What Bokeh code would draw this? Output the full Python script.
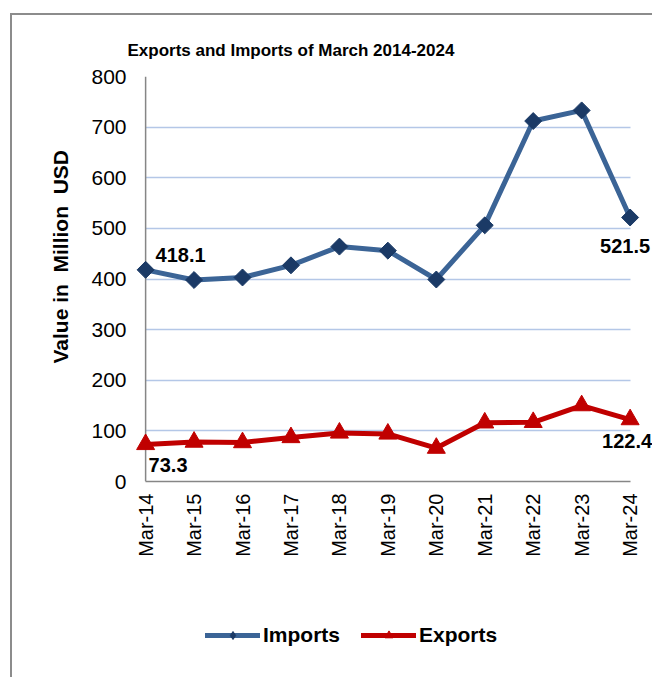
import math
from bokeh.plotting import figure
from bokeh.layouts import column
from bokeh.models import (ColumnDataSource, Range1d, FixedTicker, Label, Legend,
                          LegendItem, Span, Title)
from bokeh.embed import file_html
from bokeh.resources import INLINE

# ---- data ----
categories = ["Mar-14", "Mar-15", "Mar-16", "Mar-17", "Mar-18", "Mar-19",
              "Mar-20", "Mar-21", "Mar-22", "Mar-23", "Mar-24"]
imports = [418.1, 398, 403, 427, 464, 456, 399, 506, 712, 733, 521.5]
exports = [73.3, 78, 77, 87, 96, 94, 66, 116, 117, 150, 122.4]
y_ticks = [0, 100, 200, 300, 400, 500, 600, 700, 800]

FONT = "Liberation Sans"
IMP_LINE = "#3B6496"
IMP_MARK = "#1B3A66"
EXP_COL = "#C00000"
AXIS_COL = "#868686"
GRID_COL = "#B4C7E7"

xs = list(range(len(categories)))
src = ColumnDataSource(dict(x=xs, imports=imports, exports=exports))

p = figure(frame_width=519, frame_height=405,
           min_border_left=121, min_border_top=61,
           min_border_right=0, min_border_bottom=80,
           x_range=Range1d(-0.25, len(categories) - 1 + 0.462),
           y_range=Range1d(y_ticks[0], y_ticks[-1]),
           output_backend="svg", toolbar_location=None,
           title="Exports and Imports of March 2014-2024")
p.outline_line_color = None
p.background_fill_color = "white"
p.border_fill_color = "white"

# title
p.title.text_font = FONT
p.title.text_font_size = "17px"
p.title.text_font_style = "bold"
p.title.text_color = "black"
p.title.align = "left"
p.title.offset = -6
p.title.standoff = 34

# axes
p.xaxis.ticker = FixedTicker(ticks=xs)
p.xaxis.major_label_overrides = {i: c for i, c in enumerate(categories)}
p.xaxis.major_label_orientation = math.pi / 2
p.xaxis.major_label_text_font = FONT
p.xaxis.major_label_text_font_size = "20px"
p.xaxis.major_label_text_color = "black"
p.xaxis.major_label_standoff = 12
p.xaxis.major_tick_in = 0
p.xaxis.major_tick_out = 0
p.xaxis.minor_tick_line_color = None
p.xaxis.axis_line_color = AXIS_COL
p.xaxis.axis_line_width = 1.5
p.xaxis.bounds = (xs[0], xs[-1])

p.yaxis.ticker = FixedTicker(ticks=y_ticks)
p.yaxis.major_label_text_font = FONT
p.yaxis.major_label_text_font_size = "21px"
p.yaxis.major_label_text_color = "black"
p.yaxis.major_label_standoff = 7
p.yaxis.major_tick_in = 0
p.yaxis.major_tick_out = 0
p.yaxis.minor_tick_line_color = None
p.yaxis.axis_line_color = None

p.xgrid.visible = False
p.ygrid.grid_line_color = GRID_COL
p.ygrid.grid_line_width = 1.5
try:
    p.ygrid.cross_bounds = (xs[0], xs[-1])
except Exception:
    pass

yline = Span(location=xs[0], dimension="height", line_color=AXIS_COL,
             line_width=1.5, level="underlay")
p.add_layout(yline)

# y axis title (side title so it can be shifted along the axis)
p.add_layout(Title(text="Value in\u00a0 Million\u00a0 USD", align="left", offset=118,
                   standoff=34, text_font=FONT, text_font_size="21px",
                   text_font_style="bold", text_color="black"), "left")

# series
r1 = p.line("x", "imports", source=src, line_color=IMP_LINE, line_width=5,
            line_join="round", line_cap="round")
r2 = p.line("x", "exports", source=src, line_color=EXP_COL, line_width=5,
            line_join="round", line_cap="round")
m1 = p.scatter("x", "imports", source=src, marker="square", angle=math.pi / 4,
               size=12, fill_color=IMP_MARK, line_color=IMP_MARK)
m2 = p.scatter("x", "exports", source=src, marker="triangle", size=18,
               fill_color=EXP_COL, line_color=EXP_COL)

# data labels (first and last)
def add_label(xv, yv, xo, yo, align):
    p.add_layout(Label(x=xv, y=yv, text=f"{yv}", x_offset=xo, y_offset=yo,
                       text_align=align, text_baseline="alphabetic",
                       text_font=FONT, text_font_size="20px",
                       text_font_style="bold", text_color="black"))

add_label(xs[0], imports[0], 10, 15, "left")
add_label(xs[-1], imports[-1], -5, -29, "center")
add_label(xs[0], exports[0], 3, -21, "left")
add_label(xs[-1], exports[-1], -3, -21, "center")

# ---- legend strip (separate small figure below the chart) ----
# The series are re-plotted here only as legend keys; the strip's ranges keep
# them out of view so that just the legend shows.
leg = figure(width=640, height=116, min_border=0, x_axis_location=None,
             y_axis_location=None, x_range=Range1d(-2, -1), y_range=Range1d(-2, -1),
             output_backend="svg", toolbar_location=None)
leg.outline_line_color = None
leg.grid.visible = False
leg.background_fill_color = "white"
leg.border_fill_color = "white"
l1 = leg.line("x", "imports", source=src, line_color=IMP_LINE, line_width=5,
              line_cap="round")
l1m = leg.scatter("x", "imports", source=src, marker="diamond", size=12,
                  fill_color=IMP_MARK, line_color=IMP_MARK)
l2 = leg.line("x", "exports", source=src, line_color=EXP_COL, line_width=5,
              line_cap="round")
l2m = leg.scatter("x", "exports", source=src, marker="triangle", size=18,
                  fill_color=EXP_COL, line_color=EXP_COL)
legend = Legend(items=[LegendItem(label="Imports", renderers=[l1, l1m]),
                       LegendItem(label="Exports", renderers=[l2, l2m])],
                orientation="horizontal", location=(72, 30),
                glyph_width=55, glyph_height=20, label_standoff=3, spacing=21,
                padding=0, margin=0, border_line_color=None,
                background_fill_alpha=0, label_text_font=FONT,
                label_text_color="black",
                label_text_font_size="21px", label_text_font_style="bold")
leg.add_layout(legend)

page = column(p, leg, spacing=0, margin=(13, 0, 0, 10),
              styles={"border-left": "2px solid #8c8c8c",
                      "border-top": "2px solid #8c8c8c"})

open("out.html", "w").write(file_html(page, INLINE))
